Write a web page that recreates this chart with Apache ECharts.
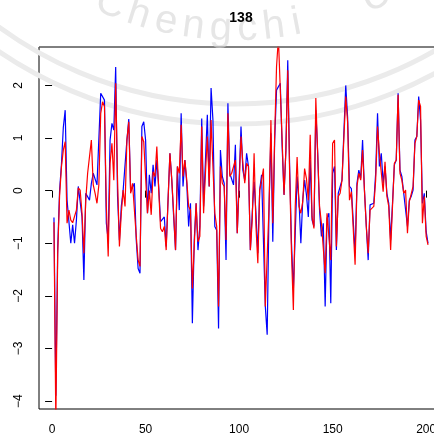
<!DOCTYPE html>
<html><head><meta charset="utf-8">
<script src="https://cdn.jsdelivr.net/npm/echarts@6/dist/echarts.min.js"></script>
<style>html,body{margin:0;padding:0;background:#fff}#c{width:434px;height:439px}</style>
</head><body><div id="c"></div>
<script>
const chartTitle = '138';
const xTicks = [0, 50, 100, 150, 200];
const yTicks = [-4, -3, -2, -1, 0, 1, 2];
const xStart = 1;
const blue = [
-0.51,-3.9,-1.1,0.0,0.5,1.2,1.53,-0.18,-0.18,-1.0,
-0.65,-1.0,-0.56,0.08,0.1,-0.5,-1.7,-0.05,-0.02,-0.18,
0.14,0.33,0.3,0.11,0.14,1.85,1.82,1.72,-0.62,-0.94,
0.96,1.28,1.15,2.35,-0.11,-0.94,-0.3,0.01,0.01,0.96,
1.36,-0.02,-0.02,0.14,-0.94,-1.48,-1.57,1.22,1.31,0.96,
-0.43,0.3,-0.05,0.49,0.08,0.58,0.08,-0.59,-0.56,-0.5,
-1.06,-0.18,0.71,0.2,-0.5,-1.13,0.46,-0.37,1.47,0.08,
0.58,0.14,-0.68,-0.24,-2.52,-0.94,-0.24,-1.13,-0.68,1.37,
-0.3,0.58,1.44,0.08,1.95,1.34,-0.68,-0.75,-2.62,0.77,
0.27,0.14,-1.32,1.66,0.33,0.3,0.11,0.87,-0.81,-0.84,
1.22,0.39,0.2,0.71,0.46,-1.13,-0.43,0.17,-0.43,-1.19,
0.01,0.3,0.27,-2.2,-2.74,-0.3,1.09,-0.97,0.96,1.91,
1.91,2.04,0.84,-0.08,0.77,2.48,0.46,-1.0,-1.89,-0.81,
0.27,-0.18,-1.0,-0.18,0.2,-0.08,-0.5,0.58,-0.56,-0.68,
1.53,0.71,-0.37,-0.87,-0.62,-2.2,-0.53,-0.43,-2.14,0.33,
0.46,-1.13,-0.05,-0.08,0.2,0.2,2.0,1.4,0.08,0.04,
0.01,-1.19,0.14,0.39,0.23,0.96,0.01,-0.68,-1.32,-0.27,
-0.24,-0.24,0.33,1.47,0.46,0.71,0.14,0.46,-0.05,-0.24,
-0.94,-0.24,0.49,0.58,1.85,0.39,0.27,-0.05,-0.05,-0.68,
-0.18,-0.11,0.01,0.96,1.03,1.79,1.34,-0.24,-0.05,-0.78,
-1.0
];
const red = [
-0.6,-4.4,-1.2,-0.1,0.45,0.77,0.93,-0.62,-0.37,-0.56,
-0.61,-0.62,-0.37,0.05,0.01,-0.43,-1.19,-0.18,0.33,0.33,
0.96,0.11,-0.05,-0.24,0.11,1.47,1.69,1.6,-0.3,-1.25,
0.52,0.9,0.2,2.04,0.2,-1.06,-0.43,0.01,-0.3,0.96,
1.31,-0.05,0.14,0.14,-0.87,-1.32,-1.44,1.03,0.93,0.9,
-0.43,0.0,-0.46,0.36,0.27,0.84,0.01,-0.72,-0.78,-0.68,
-1.13,-0.18,0.71,0.2,-0.43,-1.13,0.46,0.33,1.25,0.27,
0.58,0.2,-0.3,-0.37,-1.86,-1.06,-0.24,-0.97,-0.87,1.22,
-0.43,0.33,1.03,0.08,1.34,1.37,-0.43,-0.68,-2.2,0.46,
0.14,0.08,-0.94,1.47,0.27,0.33,0.36,0.58,-0.81,-0.81,
1.03,0.52,0.14,0.52,0.46,-1.13,-0.56,0.71,-0.68,-1.38,
0.01,0.2,0.42,-2.2,-2.2,-0.3,1.34,-0.62,1.03,2.36,
2.9,2.9,0.96,-0.08,0.77,2.29,0.33,-1.19,-2.27,-0.3,
0.64,-0.3,-0.43,-0.21,0.42,0.23,-0.18,1.06,-0.5,-0.72,
1.76,0.71,-0.3,-0.62,-0.59,-1.57,-0.43,-0.4,-1.32,0.9,
0.96,-1.06,-0.11,-0.05,0.2,0.2,1.79,1.3,-0.18,-0.02,
0.01,-1.41,0.08,0.33,0.2,0.77,0.01,-0.68,-1.19,-0.37,
-0.34,-0.3,0.2,1.22,0.71,0.68,-0.02,0.55,-0.11,-0.3,
-1.13,-0.3,0.52,0.58,1.82,0.33,0.2,-0.05,0.01,-0.81,
-0.21,-0.18,0.08,0.9,1.03,1.72,1.6,-0.62,-0.11,-0.87,
-1.03
];
const watermarkText = ['C','h','e','n','g','c','h','i','U'];
const watermarkX = [103,133,162,191,220,248,276,300,385];

const toPairs = arr => arr.map((v, i) => [xStart + i, v]);
const chart = echarts.init(document.getElementById('c'), null, {renderer: 'canvas'});
const FONT = 'Liberation Sans, Arial, sans-serif';

// watermark geometry
const wcx = 235, wcy = -296, rb = 345;
const wmElems = [];
[400, 420].forEach(r => {
  wmElems.push({type: 'arc', silent: true, z: 0,
    shape: {cx: wcx, cy: wcy, r: r, startAngle: 0.4, endAngle: Math.PI - 0.4},
    style: {stroke: '#ebebeb', lineWidth: 5, fill: null}});
});
watermarkText.forEach((ch, k) => {
  const dx = watermarkX[k] - wcx;
  const ang = Math.asin(dx / rb);
  const px = wcx + rb * Math.sin(ang);
  const py = wcy + rb * Math.cos(ang);
  wmElems.push({type: 'text', silent: true, z: 0, x: px, y: py, rotation: ang,
    style: {text: ch, fill: '#e6e6e6', font: '40px ' + FONT, align: 'center', verticalAlign: 'bottom'}});
});
wmElems.push({type: 'line', silent: true, z: 10,
  shape: {x1: 39, y1: 47, x2: 434, y2: 47}, style: {stroke: '#808080', lineWidth: 1}});

const option = {
  animation: false,
  backgroundColor: '#fff',
  title: {text: chartTitle, left: 241, top: 11, padding: 0, textAlign: 'center',
    textStyle: {fontFamily: FONT, fontWeight: 'bold', fontSize: 14, color: '#000'}},
  grid: {left: 39, top: 47, width: 404, height: 362, outerBoundsMode: 'none', containLabel: false,
    show: true, borderColor: '#000', borderWidth: 1, backgroundColor: 'transparent'},
  xAxis: {type: 'value', min: -7, max: 209,
    axisLine: {show: false},
    axisTick: {show: true, customValues: xTicks, length: 7, lineStyle: {color: '#000'}},
    axisLabel: {customValues: xTicks, color: '#000', fontSize: 12, margin: 15, fontFamily: FONT, hideOverlap: false},
    splitLine: {show: false}},
  yAxis: {type: 'value', min: -4.15, max: 2.73,
    axisLine: {show: false},
    axisTick: {show: true, customValues: yTicks, length: 7, lineStyle: {color: '#000'}},
    axisLabel: {customValues: yTicks, color: '#000', fontSize: 12, margin: 14, rotate: 90, fontFamily: FONT,
      formatter: v => String(v).replace('-', '\u2212')},
    splitLine: {show: false}},
  graphic: wmElems,
  series: [
    {type: 'line', data: toPairs(blue), symbol: 'none', z: 2, lineStyle: {color: '#0000ff', width: 1.2}},
    {type: 'line', data: toPairs(red), symbol: 'none', z: 3, lineStyle: {color: '#ff0000', width: 1.2}}
  ]
};
chart.setOption(option);
</script></body></html>
